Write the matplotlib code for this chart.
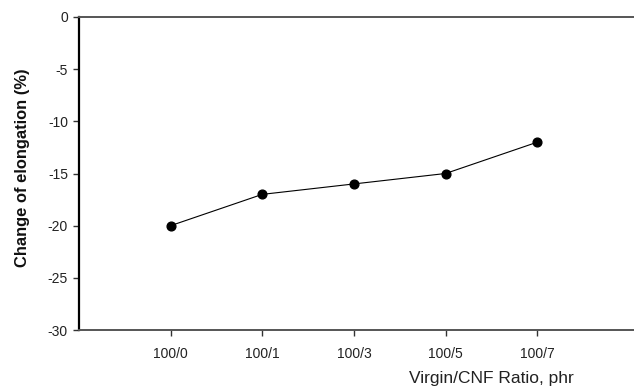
import matplotlib
matplotlib.use("Agg")
import matplotlib.pyplot as plt

categories = ["100/0", "100/1", "100/3", "100/5", "100/7"]
values = [-20, -17, -16, -15, -12]
yticks = [0, -5, -10, -15, -20, -25, -30]

plt.rcParams['font.family'] = ['Liberation Sans', 'DejaVu Sans']
plt.rcParams['axes.unicode_minus'] = False

fig = plt.figure(figsize=(6.34, 3.86), dpi=100)
ax = fig.add_axes([79/634, 56/386, 1 - 79/634 + 0.002, (330-17)/386])

x = list(range(len(categories)))
ax.plot(x, values, color='black', lw=0.8, marker='o', markersize=6.3,
        markerfacecolor='black', markeredgecolor='black')

ax.set_xlim(-1, 5.07)
ax.set_ylim(-30, 0)
ax.set_xticks(x)
ax.set_xticklabels(categories)
ax.set_yticks(yticks)
ax.set_yticklabels([str(v) for v in yticks])

for s in ['top', 'bottom']:
    ax.spines[s].set_color('#555555')
    ax.spines[s].set_linewidth(1.4)
ax.spines['left'].set_color('black')
ax.spines['left'].set_linewidth(1.6)
ax.spines['right'].set_visible(False)

ax.tick_params(axis='both', direction='out', length=4, width=1, colors='#333333',
               labelsize=10, labelcolor='#222222')
ax.tick_params(axis='x', pad=8)
ax.tick_params(axis='y', pad=4)

fig.text(23/634, 1 - 168/386, "Change of elongation (%)", rotation=90,
         ha='center', va='center', fontsize=11.9, fontweight='bold', color='#111111')
fig.text(491/634, 1 - 379/386, "Virgin/CNF Ratio, phr", ha='center', va='center',
         fontsize=12.5, color='#222222')

fig.savefig("out.png", dpi=100)
